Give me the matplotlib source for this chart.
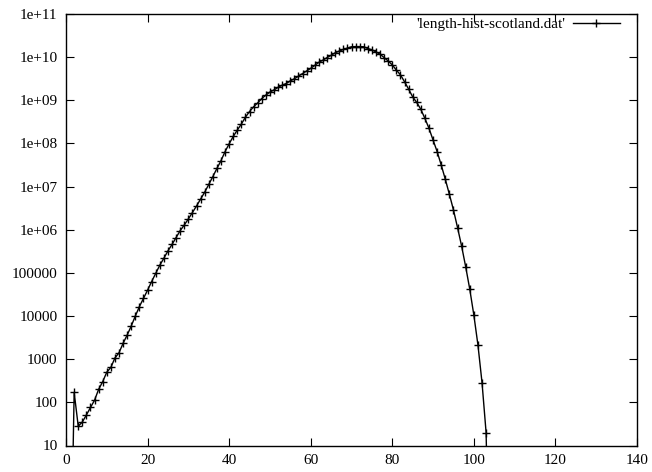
import numpy as np
import matplotlib
matplotlib.use("Agg")
import matplotlib.pyplot as plt

# Histogram counts per length
lengths = list(range(1, 105))
counts = [
    1e-3, 170, 28, 35, 51, 76, 112, 200, 302, 500,
    646, 1070, 1410, 2340, 3630, 5890, 1.0e4, 1.66e4, 2.57e4, 3.98e4,
    6.31e4, 9.77e4, 1.51e5, 2.19e5, 3.24e5, 4.57e5, 6.61e5, 9.55e5, 1.29e6, 1.78e6,
    2.51e6, 3.55e6, 5.13e6, 7.41e6, 1.12e7, 1.70e7, 2.63e7, 3.98e7, 6.46e7, 9.8e7,
    1.45e8, 2.04e8, 2.82e8, 4.07e8, 5.50e8, 7.08e8, 8.71e8, 1.10e9, 1.32e9, 1.55e9,
    1.74e9, 2.00e9, 2.24e9, 2.45e9, 2.82e9, 3.16e9, 3.63e9, 4.17e9, 4.79e9, 5.50e9,
    6.46e9, 7.59e9, 8.51e9, 9.77e9, 1.10e10, 1.26e10, 1.38e10, 1.51e10, 1.62e10, 1.74e10,
    1.76e10, 1.76e10, 1.74e10, 1.58e10, 1.48e10, 1.32e10, 1.17e10, 9.77e9, 8.13e9, 6.61e9,
    5.01e9, 3.89e9, 2.69e9, 1.82e9, 1.20e9, 8.9e8, 6.17e8, 3.80e8, 2.24e8, 1.20e8,
    6.46e7, 3.16e7, 1.48e7, 6.61e6, 2.88e6, 1.12e6, 4.17e5, 1.38e5, 4.17e4, 1.05e4,
    2140, 288, 20, 1e-3,
]

xticks = [0, 20, 40, 60, 80, 100, 120, 140]
yticks = [10, 1e2, 1e3, 1e4, 1e5, 1e6, 1e7, 1e8, 1e9, 1e10, 1e11]
ytick_labels = ["10", "100", "1000", "10000", "100000", "1e+06", "1e+07",
                "1e+08", "1e+09", "1e+10", "1e+11"]

plt.rcParams["font.family"] = ["Liberation Serif", "DejaVu Serif"]
plt.rcParams["font.size"] = 11

fig = plt.figure(figsize=(6.52, 4.72), dpi=100)
ax = fig.add_axes([66 / 652, 1 - 445.5 / 472, (637 - 66) / 652, (445.5 - 14) / 472])

ax.plot(lengths, counts, color="black", linewidth=1.0, marker="+",
        markersize=5.5, markeredgewidth=1.0, label="'length-hist-scotland.dat'")

ax.set_yscale("log")
ax.set_xlim(0, 140)
ax.set_ylim(10, 1e11)
ax.set_xticks(xticks)
ax.set_yticks(yticks)
ax.set_yticklabels(ytick_labels)
ax.minorticks_off()
ax.tick_params(direction="in", length=6, width=0.8, top=True, right=True, pad=6)

for s in ax.spines.values():
    s.set_linewidth(1.0)

# legend sits in the top right corner, sample line after the text
ax.legend(loc="upper right", frameon=False, markerfirst=False, handlelength=3.1,
          handletextpad=0.45, borderpad=0, borderaxespad=0,
          bbox_to_anchor=((620 - 66) / 571, 0.992))

fig.savefig("out.png", dpi=100)
